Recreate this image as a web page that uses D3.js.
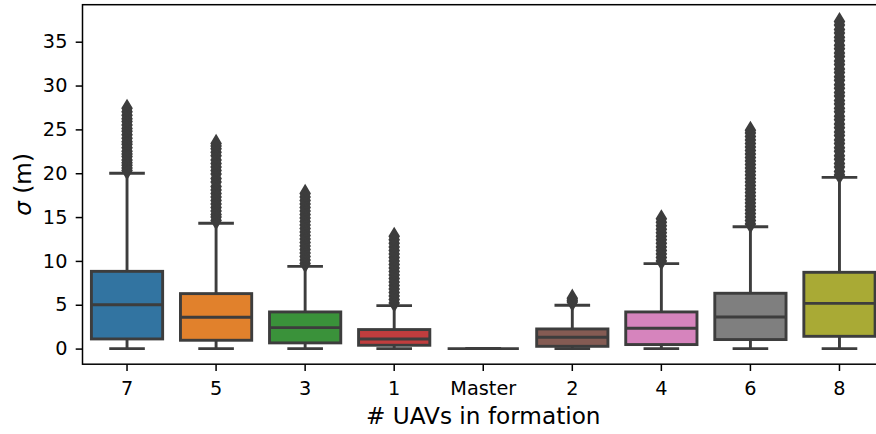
<!DOCTYPE html>
<html>
<head>
<meta charset="utf-8">
<script src="https://cdn.jsdelivr.net/npm/d3@7"></script>
<style>
  html, body { margin: 0; padding: 0; background: #ffffff; }
  svg { display: block; font-family: "DejaVu Sans", sans-serif; }
</style>
</head>
<body>
<svg id="chart" width="876" height="434"></svg>
<script>
// Formation position categories, in plotting order
const categories = ["7", "5", "3", "1", "Master", "2", "4", "6", "8"];

// Box statistics of sigma (m) for each category
const whiskerLow  = [0, 0, 0, 0, 0, 0, 0, 0, 0];
const q1          = [1.10, 0.95, 0.65, 0.38, 0, 0.26, 0.46, 1.03, 1.40];
const median      = [5.00, 3.57, 2.39, 1.10, 0, 1.29, 2.32, 3.61, 5.16];
const q3          = [8.81, 6.27, 4.18, 2.17, 0, 2.24, 4.18, 6.31, 8.70];
const whiskerHigh = [20.0, 14.29, 9.38, 4.90, 0, 4.94, 9.69, 13.90, 19.53];

// Outliers above the upper whisker
const fliers7 = [20.3, 20.6, 20.9, 21.2, 21.5, 21.9, 22.2, 22.5, 22.9, 23.3, 23.6, 24.0, 24.4,
                 24.8, 25.1, 25.5, 25.9, 26.2, 26.6, 27.0, 27.4];
const fliers5 = [14.6, 15.0, 15.3, 15.7, 16.1, 16.5, 16.9, 17.3, 17.7, 18.1, 18.5, 19.0, 19.4,
                 19.9, 20.3, 20.7, 21.1, 21.5, 22.0, 22.4, 22.8, 23.1, 23.4];
const fliers3 = [9.7, 10.1, 10.5, 10.9, 11.3, 11.7, 12.1, 12.5, 12.9, 13.3, 13.7, 14.1, 14.5,
                 14.9, 15.3, 15.7, 16.1, 16.5, 16.9, 17.3, 17.7];
const fliers1 = [5.2, 5.6, 6.0, 6.4, 6.8, 7.2, 7.6, 8.0, 8.4, 8.8, 9.2, 9.6, 10.0, 10.4, 10.8,
                 11.2, 11.6, 12.0, 12.4, 12.8];
const fliersMaster = [];
const fliers2 = [5.3, 5.5, 5.75];
const fliers4 = [10.0, 10.4, 10.8, 11.2, 11.6, 12.0, 12.4, 12.8, 13.2, 13.6, 14.0, 14.4, 14.8];
const fliers6 = [14.2, 14.6, 15.0, 15.4, 15.8, 16.2, 16.6, 17.0, 17.4, 17.8, 18.2, 18.6, 19.0,
                 19.4, 19.8, 20.2, 20.6, 21.0, 21.4, 21.8, 22.2, 22.6, 23.0, 23.4, 23.8, 24.2,
                 24.6, 24.9];
const fliers8 = [19.8, 20.2, 20.7, 21.1, 21.6, 22.0, 22.5, 22.9, 23.4, 23.8, 24.3, 24.7, 25.2,
                 25.6, 26.1, 26.5, 27.0, 27.4, 27.9, 28.3, 28.8, 29.2, 29.7, 30.1, 30.6, 31.0,
                 31.5, 31.9, 32.4, 32.8, 33.3, 33.7, 34.2, 34.6, 35.1, 35.5, 36.0, 36.4, 36.9,
                 37.3];
const fliers = [fliers7, fliers5, fliers3, fliers1, fliersMaster, fliers2, fliers4, fliers6, fliers8];

// Y axis tick values
const yTicks = [0, 5, 10, 15, 20, 25, 30, 35];

// Fill colours (muted tab10)
const palette = ["#3274a1", "#e1812c", "#3a923a", "#c03d3e", "#9372b2",
                 "#845b53", "#d684bd", "#7f7f7f", "#a9aa35"];
const lineColor = "#3d3d3d";

const svg = d3.select("#chart");

const plot = { left: 82.5, right: 884, top: 4.7, bottom: 364.2 };

const x = d3.scaleBand()
  .domain(categories)
  .range([plot.left, plot.right])
  .paddingInner(0.2)
  .paddingOuter(0.1);

const y = d3.scaleLinear()
  .domain([-1.78, 39.22])
  .range([plot.bottom, plot.top]);

const boxes = categories.map((c, i) => ({
  cat: c, color: palette[i],
  lo: whiskerLow[i], q1: q1[i], med: median[i], q3: q3[i], hi: whiskerHigh[i],
  fliers: fliers[i]
}));

const lw = 2.9;
const bw = x.bandwidth();
const cx = d => x(d.cat) + bw / 2;

const g = svg.append("g");

// Boxes
g.selectAll("rect.box").data(boxes).join("rect")
  .attr("class", "box")
  .attr("x", d => x(d.cat))
  .attr("width", bw)
  .attr("y", d => y(d.q3))
  .attr("height", d => y(d.q1) - y(d.q3))
  .attr("fill", d => d.color)
  .attr("stroke", lineColor)
  .attr("stroke-width", lw);

// Whiskers
g.selectAll("line.wlo").data(boxes).join("line")
  .attr("x1", cx).attr("x2", cx)
  .attr("y1", d => y(d.q1)).attr("y2", d => y(d.lo))
  .attr("stroke", lineColor).attr("stroke-width", lw);
g.selectAll("line.whi").data(boxes).join("line")
  .attr("x1", cx).attr("x2", cx)
  .attr("y1", d => y(d.q3)).attr("y2", d => y(d.hi))
  .attr("stroke", lineColor).attr("stroke-width", lw);

// Caps
const capW = bw / 2;
g.selectAll("line.caplo").data(boxes).join("line")
  .attr("x1", d => cx(d) - capW / 2).attr("x2", d => cx(d) + capW / 2)
  .attr("y1", d => y(d.lo)).attr("y2", d => y(d.lo))
  .attr("stroke", lineColor).attr("stroke-width", lw);
g.selectAll("line.caphi").data(boxes).join("line")
  .attr("x1", d => cx(d) - capW / 2).attr("x2", d => cx(d) + capW / 2)
  .attr("y1", d => y(d.hi)).attr("y2", d => y(d.hi))
  .attr("stroke", lineColor).attr("stroke-width", lw);

// Medians
g.selectAll("line.med").data(boxes).join("line")
  .attr("x1", d => x(d.cat)).attr("x2", d => x(d.cat) + bw)
  .attr("y1", d => y(d.med)).attr("y2", d => y(d.med))
  .attr("stroke", lineColor).attr("stroke-width", lw);

// Outlier diamonds
const dh = 6.8, dw = 4.1;
const diamond = `M0,${-dh}L${dw},0L0,${dh}L${-dw},0Z`;
const flierPts = boxes.flatMap(d => d.fliers.map(v => ({ cat: d.cat, v })));
g.selectAll("path.flier").data(flierPts).join("path")
  .attr("d", diamond)
  .attr("transform", d => `translate(${x(d.cat) + bw / 2},${y(d.v)})`)
  .attr("fill", lineColor)
  .attr("stroke", lineColor)
  .attr("stroke-width", lw)
  .attr("stroke-linejoin", "miter")
  .attr("stroke-miterlimit", 10);

// Axes
const tickFont = 19.3;
const xAxis = g.append("g")
  .attr("transform", `translate(0,${plot.bottom})`)
  .call(d3.axisBottom(x).tickSize(6.8).tickSizeOuter(0).tickPadding(10.2));
const yAxis = g.append("g")
  .attr("transform", `translate(${plot.left},0)`)
  .call(d3.axisLeft(y).tickValues(yTicks).tickSize(6.8).tickSizeOuter(0).tickPadding(8.3));

[xAxis, yAxis].forEach(a => {
  a.select(".domain").remove();
  a.selectAll(".tick line").attr("stroke", "#000").attr("stroke-width", 1.5);
  a.selectAll(".tick text")
    .attr("fill", "#000")
    .style("font-family", "'DejaVu Sans', sans-serif")
    .style("font-size", tickFont + "px");
});

// Frame
g.append("rect")
  .attr("x", plot.left).attr("y", plot.top)
  .attr("width", plot.right - plot.left)
  .attr("height", plot.bottom - plot.top)
  .attr("fill", "none")
  .attr("stroke", "#000")
  .attr("stroke-width", 1.5);

// Axis labels
svg.append("text")
  .attr("x", (plot.left + plot.right) / 2)
  .attr("y", 424)
  .attr("text-anchor", "middle")
  .style("font-size", "23.2px")
  .attr("fill", "#000")
  .text("# UAVs in formation");

const yl = svg.append("text")
  .attr("transform", `translate(30.5,${(plot.top + plot.bottom) / 2}) rotate(-90)`)
  .attr("text-anchor", "middle")
  .style("font-size", "23.2px")
  .attr("fill", "#000");
yl.append("tspan").style("font-style", "italic").text("σ");
yl.append("tspan").text(" (m)");
</script>
</body>
</html>
